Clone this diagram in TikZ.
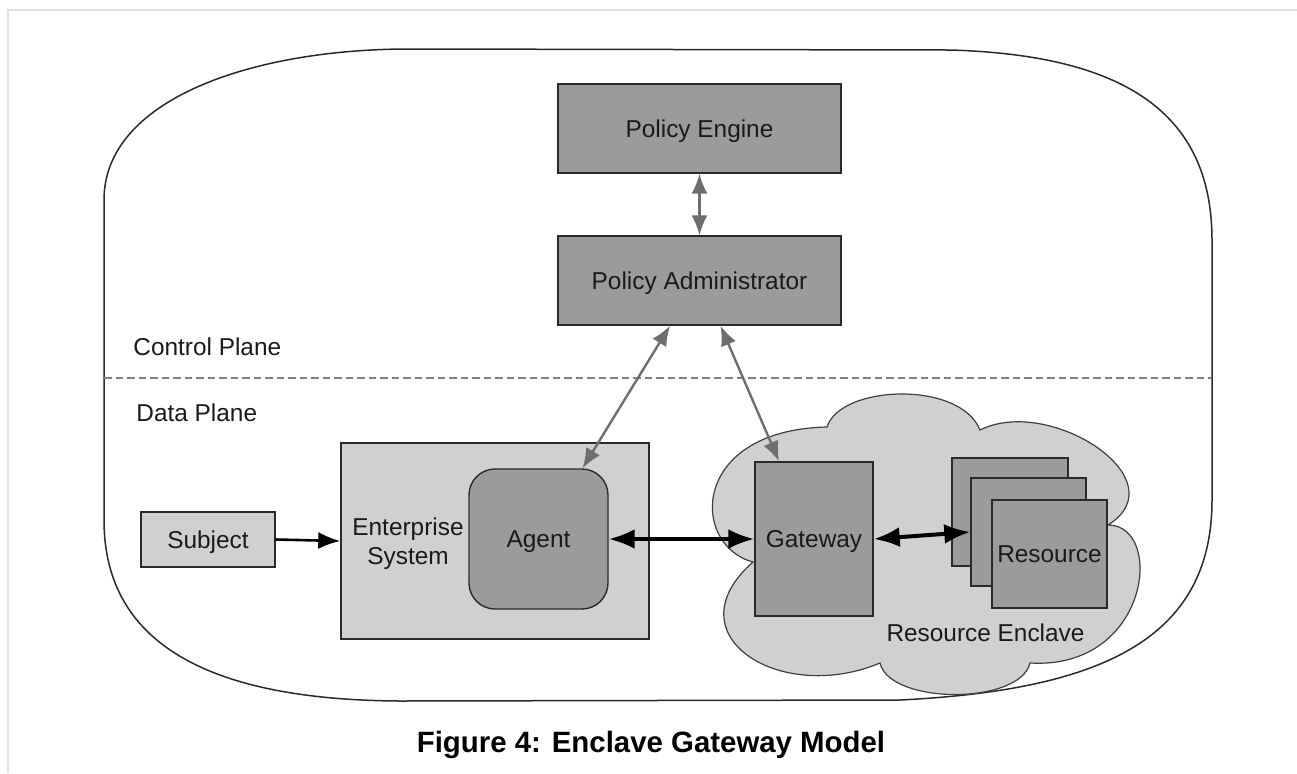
\documentclass[tikz,border=0pt]{standalone}
\usepackage{fontspec}
\setmainfont{Liberation Sans}
\usetikzlibrary{arrows.meta,calc}

\definecolor{boxdark}{HTML}{9B9B9B}
\definecolor{boxlight}{HTML}{D0D0D0}
\definecolor{linkgrey}{HTML}{6E6E6E}
\definecolor{edgeline}{HTML}{2A2A2A}
\definecolor{framegrey}{HTML}{E0E0E0}
\definecolor{dashgrey}{HTML}{808080}
\definecolor{inktext}{HTML}{1A1A1A}

\begin{document}
\begin{tikzpicture}[x=0.5pt,y=-0.5pt,
  every node/.style={font=\fontsize{12.2}{14.5}\selectfont,text=inktext},
  box/.style={draw=edgeline,line width=0.7pt,inner sep=0pt,
              text height=8.7pt,text depth=0pt},
  darkbox/.style={box,fill=boxdark},
  lightbox/.style={box,fill=boxlight},
  plainlabel/.style={inner sep=0pt},
  ctrllink/.style={linkgrey,line width=1.2pt,
     {Latex[length=10pt,width=8pt]}-{Latex[length=10pt,width=8pt]}},
  datalink/.style={black,line width=1.3pt,-{Latex[length=11pt,width=8.5pt]}},
  biglink/.style={black,line width=2pt,
     {Latex[length=13pt,width=10pt]}-{Latex[length=13pt,width=10pt]}},
]
\useasboundingbox (0,0) rectangle (1297,773);

% page frame
\draw[framegrey,line width=0.6pt] (8,773) -- (8,10) -- (1297,10);

% outer rounded boundary
\draw[edgeline,line width=0.75pt]
  (104,200) .. controls (104,100) and (250,50) .. (405,49)
  -- (950,50) .. controls (1120,55) and (1212,110) .. (1212,240)
  -- (1212,500) .. controls (1212,640) and (1100,690) .. (900,700)
  -- (400,701) .. controls (220,700) and (104,650) .. (104,520)
  -- cycle;

% control / data plane separator
\coordinate (sepL) at (104,378);
\coordinate (sepR) at (1212,378);
\draw[dashgrey,line width=1pt,dash pattern=on 3.75pt off 2pt] (sepL) -- (sepR);

\node[plainlabel,anchor=base west] (ctrlplane) at (133,355) {Control Plane};
\node[plainlabel,anchor=base west] (dataplane) at (136,421) {Data Plane};

% resource enclave cloud
\draw[fill=boxlight,draw=edgeline!90,line width=0.6pt]
  (753,562) .. controls (690,545) and (690,430) .. (827,427)
  .. controls (840,385) and (960,380) .. (980,430)
  .. controls (1050,395) and (1180,480) .. (1108,525)
  .. controls (1165,525) and (1150,670) .. (1030,663)
  .. controls (1020,705) and (890,705) .. (880,663)
  .. controls (780,705) and (670,635) .. cycle;
\node[plainlabel,anchor=base] (enclave) at (985.5,641.7) {Resource Enclave};

% control plane components
\node[darkbox,minimum width=141.5pt,minimum height=44.5pt] (pe) at (699.5,128.5) {Policy Engine};
\node[darkbox,minimum width=141.5pt,minimum height=44.5pt] (pa) at (699.5,280.5) {Policy Administrator};

% data plane components
\node[lightbox,minimum width=67pt,minimum height=27.5pt] (subj) at (208,539.5) {Subject};
\node[lightbox,minimum width=154pt,minimum height=98pt] (ent) at (495,541) {};
\node[plainlabel,align=center] (entlabel) at (408,544) {Enterprise\\System};
\node[darkbox,rounded corners=13pt,minimum width=69.5pt,minimum height=70pt] (agent) at (538.5,539) {Agent};
\node[darkbox,minimum width=59pt,minimum height=77pt] (gw) at (814,539) {Gateway};

% stacked resources, back to front
\node[darkbox,minimum width=58pt,minimum height=54pt] (res1) at (1010,512) {};
\node[darkbox,minimum width=57.5pt,minimum height=54pt] (res2) at (1028.5,532) {};
\node[darkbox,minimum width=57.5pt,minimum height=54pt] (res3) at (1049.5,554) {Resource};

% connections
\draw[ctrllink] (pe.south) -- (pa.north);
\draw[ctrllink] ($(pa.south)+(-29.5,0)$) -- ($(agent.north)+(44,0)$);
\draw[ctrllink] ($(pa.south)+(21,0)$) -- ($(gw.north)+(-35,0)$);
\draw[datalink] (subj.east) -- (ent.west);
\draw[biglink] (agent.east) -- (gw.west);
\draw[biglink] (gw.east) -- (res2.west);

% caption
\node[plainlabel,anchor=base,font=\fontsize{14.7}{17}\selectfont\bfseries,text=black] (caption) at (651,752) {Figure 4: Enclave Gateway Model};
\end{tikzpicture}
\end{document}
